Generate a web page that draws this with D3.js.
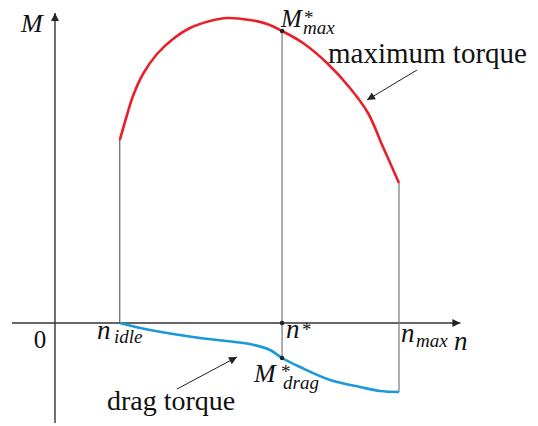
<!DOCTYPE html>
<html><head><meta charset="utf-8">
<script src="https://cdn.jsdelivr.net/npm/d3@7"></script>
<style>
html,body{margin:0;padding:0;background:#fff;}
svg{display:block;}
</style></head>
<body>
<svg id="chart" width="538" height="426"></svg>
<script>
// engine speed n (arbitrary rpm units) and torque M (arbitrary units)
const nIdle = 1130, nStar = 3960, nMax = 6000;
const maxTorqueN = [1130,1256,1360,1535,1779,2058,2355,2703,3000,3401,3698,3960,4326,4744,5145,5459,5721,6000];
const maxTorqueM = [183,208,227,249,269,284,295,302,305,303,299,292,280,260,235,210,176,140];
const dragTorqueN = [1130,1657,2529,3401,3750,3960,4273,4797,5320,5669,6000];
const dragTorqueM = [0,-7,-15,-21,-27,-35,-44,-57,-64,-68,-69];

const svg = d3.select("#chart");
const x = d3.scaleLinear().domain([0, nMax]).range([55, 399]);
const y = d3.scaleLinear().domain([0, 306]).range([323, 17]);

const interp = (ns, ms, n) => {
  for (let i = 0; i < ns.length - 1; i++) {
    if (n >= ns[i] && n <= ns[i+1]) {
      const t = (n - ns[i]) / (ns[i+1] - ns[i]);
      return ms[i] + t * (ms[i+1] - ms[i]);
    }
  }
  return ms[ms.length-1];
};
const mStarMax = interp(maxTorqueN, maxTorqueM, nStar);
const mStarDrag = interp(dragTorqueN, dragTorqueM, nStar);

// arrow marker
const defs = svg.append("defs");
defs.append("marker").attr("id","arr").attr("viewBox","0 0 10 10")
  .attr("refX",10).attr("refY",5).attr("markerWidth",10).attr("markerHeight",8)
  .attr("markerUnits","userSpaceOnUse").attr("orient","auto")
  .append("path").attr("d","M0,0L10,5L0,10Z").attr("fill","#222");

// axes
svg.append("line").attr("x1", x(-750)).attr("x2", x(7070)).attr("y1", y(0)).attr("y2", y(0))
  .attr("stroke","#333").attr("stroke-width",1.4).attr("marker-end","url(#arr)");
svg.append("line").attr("x1", x(0)).attr("x2", x(0)).attr("y1", y(-100)).attr("y2", y(310))
  .attr("stroke","#333").attr("stroke-width",1.4).attr("marker-end","url(#arr)");

// vertical guide lines
svg.append("line").attr("x1", x(nIdle)).attr("x2", x(nIdle)).attr("y1", y(0)).attr("y2", y(maxTorqueM[0]))
  .attr("stroke","#444").attr("stroke-width",1);
svg.append("line").attr("x1", x(nStar)).attr("x2", x(nStar)).attr("y1", y(mStarDrag)).attr("y2", y(mStarMax))
  .attr("stroke","#777").attr("stroke-width",1.2);
svg.append("line").attr("x1", x(nMax)).attr("x2", x(nMax)).attr("y1", y(dragTorqueM[dragTorqueM.length-1])).attr("y2", y(maxTorqueM[maxTorqueM.length-1]))
  .attr("stroke","#777").attr("stroke-width",1.2);

// curves
const line = d3.line().x(d => x(d[0])).y(d => y(d[1])).curve(d3.curveCatmullRom.alpha(0.5));
svg.append("path").attr("d", line(d3.zip(maxTorqueN, maxTorqueM)))
  .attr("fill","none").attr("stroke","#e8202a").attr("stroke-width",2.6);
svg.append("path").attr("d", line(d3.zip(dragTorqueN, dragTorqueM)))
  .attr("fill","none").attr("stroke","#1b98d8").attr("stroke-width",2.6);

// dots
[[nStar, mStarMax],[nStar, 0],[nStar, mStarDrag]].forEach(p => {
  svg.append("circle").attr("cx", x(p[0])).attr("cy", y(p[1])).attr("r", 2.2).attr("fill","#222");
});

// annotation arrows
svg.append("line").attr("x1",417).attr("y1",70).attr("x2",367).attr("y2",100)
  .attr("stroke","#222").attr("stroke-width",1).attr("marker-end","url(#arr)");
svg.append("line").attr("x1",177).attr("y1",389).attr("x2",237).attr("y2",357)
  .attr("stroke","#222").attr("stroke-width",1).attr("marker-end","url(#arr)");

// labels: each label is one text element; parts = [text, x, y, size, italic]
function lbl(parts, anchor) {
  const t = svg.append("text")
    .style("font-family", "'Liberation Serif'").style("fill", "#111")
    .attr("text-anchor", anchor || "start");
  parts.forEach(p => {
    t.append("tspan").attr("x", p[1]).attr("y", p[2]).text(p[0])
      .style("font-size", p[3] + "px").style("font-style", p[4] ? "italic" : "normal");
  });
  return t;
}
lbl([["M", 21, 32, 26, true]]);
lbl([["0", 40, 348, 25, false]], "middle");
lbl([["n", 97, 339, 27, true], ["idle", 114, 343, 19, true]]);
lbl([["n", 286, 338, 27, true], ["*", 302, 336, 19, false]]);
lbl([["n", 401, 342, 27, true], ["max", 416, 347, 19, true]]);
lbl([["n", 454, 350, 27, true]]);
lbl([["M", 281, 27, 25, true], ["*", 304, 24, 19, false], ["max", 303, 34, 19, true]]);
lbl([["M", 254, 382, 26, true], ["*", 281, 378, 19, false], ["drag", 283, 389, 19, true]]);
lbl([["maximum torque", 328, 63, 29, false]]);
lbl([["drag torque", 107, 410, 28, false]]);
</script>
</body></html>
